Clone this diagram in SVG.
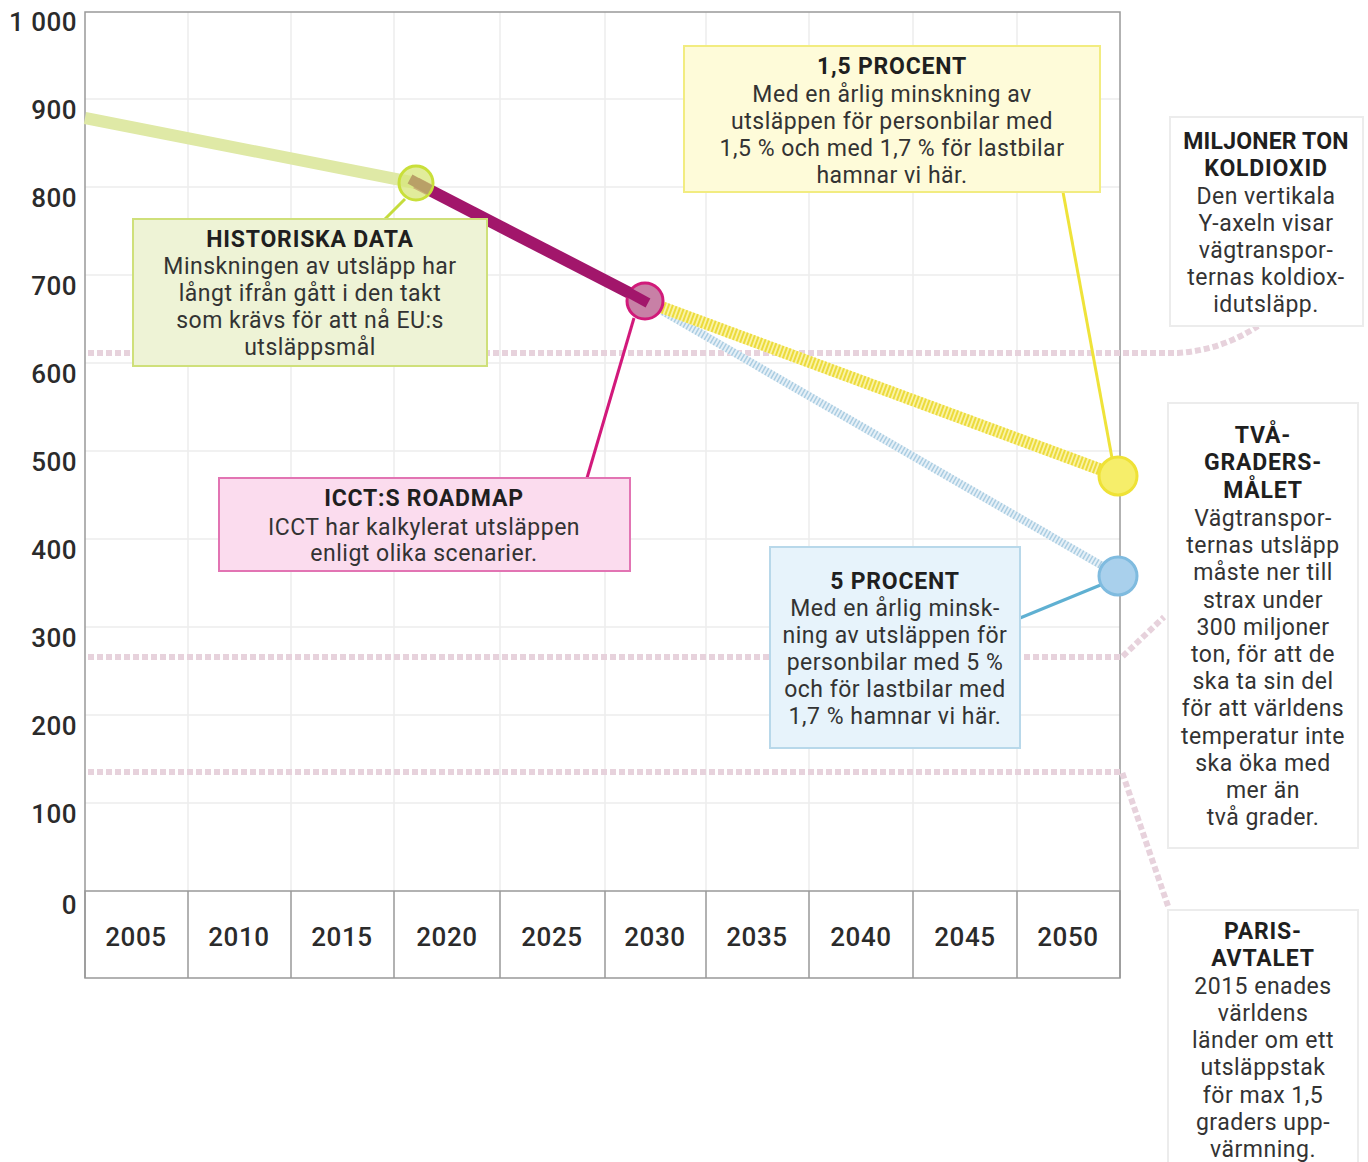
<svg xmlns="http://www.w3.org/2000/svg" width="1368" height="1162" viewBox="0 0 1368 1162">
<style>
text{font-family:Roboto,"DejaVu Sans",sans-serif;fill:#2b2b2b}
.ax{font-size:26px;font-weight:500;text-anchor:end;letter-spacing:0.5px}
.yr{font-size:26px;font-weight:500;text-anchor:middle;letter-spacing:0.6px}
.t{font-size:23px;font-weight:700;text-anchor:middle;fill:#1f1f1f;letter-spacing:0.8px}
.b{font-size:23px;text-anchor:middle;letter-spacing:0.5px;fill:#333}
.grid{stroke:#ededed;stroke-width:1.5}
.dot{fill:none;stroke:#e7d2dc;stroke-width:6;stroke-dasharray:6 3}
.frame{stroke:#999;stroke-width:1.5;fill:none}
.side{fill:#fff;stroke:#ececec;stroke-width:2}
</style>
<rect width="1368" height="1162" fill="#fff"/>
<g id="grid">
<line class="grid" x1="85" y1="99" x2="1120" y2="99"/>
<line class="grid" x1="85" y1="187" x2="1120" y2="187"/>
<line class="grid" x1="85" y1="275" x2="1120" y2="275"/>
<line class="grid" x1="85" y1="363" x2="1120" y2="363"/>
<line class="grid" x1="85" y1="451" x2="1120" y2="451"/>
<line class="grid" x1="85" y1="539" x2="1120" y2="539"/>
<line class="grid" x1="85" y1="627" x2="1120" y2="627"/>
<line class="grid" x1="85" y1="715" x2="1120" y2="715"/>
<line class="grid" x1="85" y1="803" x2="1120" y2="803"/>
<line class="grid" x1="188" y1="12" x2="188" y2="891"/>
<line class="grid" x1="291" y1="12" x2="291" y2="891"/>
<line class="grid" x1="394" y1="12" x2="394" y2="891"/>
<line class="grid" x1="500" y1="12" x2="500" y2="891"/>
<line class="grid" x1="605" y1="12" x2="605" y2="891"/>
<line class="grid" x1="706" y1="12" x2="706" y2="891"/>
<line class="grid" x1="809" y1="12" x2="809" y2="891"/>
<line class="grid" x1="913" y1="12" x2="913" y2="891"/>
<line class="grid" x1="1017" y1="12" x2="1017" y2="891"/>
</g>
<g id="frame">
<path class="frame" d="M85,978 V12 H1120 V978"/>
<rect class="frame" x="85" y="891" width="1035" height="87" stroke="#8a8a8a"/>
<path class="frame" stroke="#8a8a8a" d="M188,891V978M291,891V978M394,891V978M500,891V978M605,891V978M706,891V978M809,891V978M913,891V978M1017,891V978"/>
</g>
<g id="y-axis">
<text class="ax" x="77" y="31">1 000</text>
<text class="ax" x="77" y="119">900</text>
<text class="ax" x="77" y="207">800</text>
<text class="ax" x="77" y="295">700</text>
<text class="ax" x="77" y="383">600</text>
<text class="ax" x="77" y="471">500</text>
<text class="ax" x="77" y="559">400</text>
<text class="ax" x="77" y="647">300</text>
<text class="ax" x="77" y="735">200</text>
<text class="ax" x="77" y="823">100</text>
<text class="ax" x="77" y="914">0</text>
</g>
<g id="x-axis">
<text class="yr" x="136" y="946">2005</text>
<text class="yr" x="239" y="946">2010</text>
<text class="yr" x="342" y="946">2015</text>
<text class="yr" x="447" y="946">2020</text>
<text class="yr" x="552" y="946">2025</text>
<text class="yr" x="655" y="946">2030</text>
<text class="yr" x="757" y="946">2035</text>
<text class="yr" x="861" y="946">2040</text>
<text class="yr" x="965" y="946">2045</text>
<text class="yr" x="1068" y="946">2050</text>
</g>
<g id="connectors">
<path class="dot" d="M88,353 H1178 Q1222,350 1258,326"/>
<path class="dot" d="M88,657 H1122 L1164,617"/>
<path class="dot" d="M88,772 H1122 L1168,906"/>
<line x1="85" y1="118" x2="416" y2="183" stroke="#dfe9a6" stroke-width="12"/>
<line x1="645" y1="301" x2="1118" y2="575" stroke="#e6f0f7" stroke-width="8"/>
<line x1="645" y1="301" x2="1118" y2="575" stroke="#aacde2" stroke-width="8" stroke-dasharray="1.5 2"/>
<line x1="645" y1="301" x2="1118" y2="476" stroke="#faf3a8" stroke-width="12"/>
<line x1="645" y1="301" x2="1118" y2="476" stroke="#ecdb3c" stroke-width="12" stroke-dasharray="2 1.8"/>
<line x1="416" y1="183" x2="645" y2="301" stroke="#a2166b" stroke-width="12"/>
<line x1="385" y1="219" x2="405" y2="199" stroke="#c5dc3c" stroke-width="3"/>
<line x1="587" y1="478" x2="634" y2="318" stroke="#d2197b" stroke-width="3"/>
<line x1="1063" y1="192" x2="1112" y2="458" stroke="#efe33a" stroke-width="3"/>
<line x1="1020" y1="618" x2="1103" y2="584" stroke="#5fb0d2" stroke-width="3"/>
</g>
<g id="markers">
<circle cx="416" cy="183" r="17" fill="#d7e57a" fill-opacity="0.75" stroke="#c9df3a" stroke-width="3"/>
<line x1="410" y1="179" x2="430" y2="190" stroke="#b9a067" stroke-width="10"/>
<circle cx="645" cy="301" r="18" fill="#c880a6" stroke="#d11a7a" stroke-width="3"/>
<line x1="626" y1="291" x2="648" y2="303" stroke="#a2166b" stroke-width="10"/>
<circle cx="1118" cy="476" r="19" fill="#f6ee6a" stroke="#efe236" stroke-width="3"/>
<circle cx="1118" cy="576" r="19" fill="#a9d0ec" stroke="#7fbbdf" stroke-width="3"/>
</g>
<g id="historiska">
<rect x="133" y="219" width="354" height="147" fill="#eef3d6" stroke="#cfe07a" stroke-width="2"/>
<text class="t" x="310" y="247">HISTORISKA DATA</text>
<text class="b" x="310" y="274">Minskningen av utsläpp har</text>
<text class="b" x="310" y="301">långt ifrån gått i den takt</text>
<text class="b" x="310" y="328">som krävs för att nå EU:s</text>
<text class="b" x="310" y="355">utsläppsmål</text>
</g>
<g id="procent15">
<rect x="684" y="46" width="416" height="146" fill="#fefbd9" stroke="#f2ec80" stroke-width="2"/>
<text class="t" x="892" y="74">1,5 PROCENT</text>
<text class="b" x="892" y="102">Med en årlig minskning av</text>
<text class="b" x="892" y="129">utsläppen för personbilar med</text>
<text class="b" x="892" y="156">1,5 % och med 1,7 % för lastbilar</text>
<text class="b" x="892" y="183">hamnar vi här.</text>
</g>
<g id="icct">
<rect x="219" y="478" width="411" height="93" fill="#fbdcee" stroke="#e274b3" stroke-width="2"/>
<text class="t" x="424" y="506">ICCT:S ROADMAP</text>
<text class="b" x="424" y="535">ICCT har kalkylerat utsläppen</text>
<text class="b" x="424" y="561">enligt olika scenarier.</text>
</g>
<g id="procent5">
<rect x="770" y="547" width="250" height="201" fill="#e7f3fb" stroke="#b8d8ea" stroke-width="2"/>
<text class="t" x="895" y="589">5 PROCENT</text>
<text class="b" x="895" y="616">Med en årlig minsk-</text>
<text class="b" x="895" y="643">ning av utsläppen för</text>
<text class="b" x="895" y="670">personbilar med 5 %</text>
<text class="b" x="895" y="697">och för lastbilar med</text>
<text class="b" x="895" y="724">1,7 % hamnar vi här.</text>
</g>
<g id="miljoner">
<rect class="side" x="1170" y="117" width="193" height="209"/>
<text class="t" x="1266" y="149" style="letter-spacing:0.2px">MILJONER TON</text>
<text class="t" x="1266" y="176">KOLDIOXID</text>
<text class="b" x="1266" y="204">Den vertikala</text>
<text class="b" x="1266" y="231">Y-axeln visar</text>
<text class="b" x="1266" y="258">vägtranspor-</text>
<text class="b" x="1266" y="285">ternas koldiox-</text>
<text class="b" x="1266" y="312">idutsläpp.</text>
</g>
<g id="tvagraders">
<rect class="side" x="1168" y="403" width="190" height="445"/>
<text class="t" x="1263" y="443">TVÅ-</text>
<text class="t" x="1263" y="470">GRADERS-</text>
<text class="t" x="1263" y="498">MÅLET</text>
<text class="b" x="1263" y="526">Vägtranspor-</text>
<text class="b" x="1263" y="553">ternas utsläpp</text>
<text class="b" x="1263" y="580">måste ner till</text>
<text class="b" x="1263" y="608">strax under</text>
<text class="b" x="1263" y="635">300 miljoner</text>
<text class="b" x="1263" y="662">ton, för att de</text>
<text class="b" x="1263" y="689">ska ta sin del</text>
<text class="b" x="1263" y="716">för att världens</text>
<text class="b" x="1263" y="744">temperatur inte</text>
<text class="b" x="1263" y="771">ska öka med</text>
<text class="b" x="1263" y="798">mer än</text>
<text class="b" x="1263" y="825">två grader.</text>
</g>
<g id="paris">
<rect class="side" x="1168" y="910" width="190" height="260"/>
<text class="t" x="1263" y="939">PARIS-</text>
<text class="t" x="1263" y="966">AVTALET</text>
<text class="b" x="1263" y="994">2015 enades</text>
<text class="b" x="1263" y="1021">världens</text>
<text class="b" x="1263" y="1048">länder om ett</text>
<text class="b" x="1263" y="1075">utsläppstak</text>
<text class="b" x="1263" y="1103">för max 1,5</text>
<text class="b" x="1263" y="1130">graders upp-</text>
<text class="b" x="1263" y="1157">värmning.</text>
</g>
</svg>
